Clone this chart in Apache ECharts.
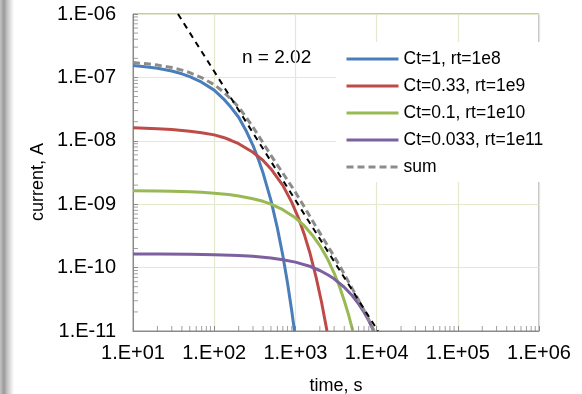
<!DOCTYPE html>
<html>
<head>
<meta charset="utf-8">
<script src="https://cdn.jsdelivr.net/npm/echarts@6/dist/echarts.min.js"></script>
<style>
  html, body { margin: 0; padding: 0; background: #fff; }
  #chart { width: 582px; height: 394px; }
</style>
</head>
<body>
<div id="chart"></div>
<script>
// Discharge currents of four trap populations (time in s, current in A)
const timeBlue    = [10, 15, 20, 30, 40, 50, 70, 100, 130, 160, 200, 250, 300, 350, 400, 500, 600, 700, 800, 900, 974];
const currentBlue = [1.54e-7, 1.46e-7, 1.39e-7, 1.26e-7, 1.14e-7, 1.03e-7, 8.4e-8, 6.3e-8, 4.6e-8, 3.4e-8, 2.35e-8, 1.40e-8, 8.5e-9, 5.1e-9, 3.1e-9, 1.15e-9, 4.2e-10, 1.55e-10, 5.7e-11, 2.1e-11, 1.0e-11];

const timeRed    = [10, 20, 30, 50, 70, 100, 130, 160, 200, 300, 400, 500, 700, 900, 1100, 1300, 1500, 1800, 2100, 2450];
const currentRed = [1.60e-8, 1.55e-8, 1.51e-8, 1.42e-8, 1.34e-8, 1.24e-8, 1.13e-8, 1.02e-8, 9.0e-9, 6.6e-9, 4.9e-9, 3.6e-9, 1.98e-9, 1.08e-9, 5.9e-10, 3.2e-10, 1.75e-10, 7.0e-11, 2.84e-11, 1.0e-11];

const timeGreen    = [10, 20, 30, 50, 70, 100, 150, 200, 300, 400, 500, 700, 1000, 1300, 1600, 2000, 2500, 3000, 3500, 4000, 4500, 5000, 5100];
const currentGreen = [1.63e-9, 1.62e-9, 1.60e-9, 1.57e-9, 1.54e-9, 1.49e-9, 1.42e-9, 1.35e-9, 1.22e-9, 1.11e-9, 1.0e-9, 8.2e-10, 6.1e-10, 4.5e-10, 3.3e-10, 2.23e-10, 1.35e-10, 8.2e-11, 5.0e-11, 3.0e-11, 1.83e-11, 1.1e-11, 1.0e-11];

const timePurple    = [10, 20, 50, 100, 200, 300, 500, 700, 1000, 1500, 2000, 2500, 3000, 4000, 5000, 6000, 7000, 8000, 9200];
const currentPurple = [1.645e-10, 1.64e-10, 1.625e-10, 1.60e-10, 1.55e-10, 1.51e-10, 1.42e-10, 1.33e-10, 1.22e-10, 1.05e-10, 9.0e-11, 7.7e-11, 6.65e-11, 4.9e-11, 3.63e-11, 2.68e-11, 1.98e-11, 1.46e-11, 1.0e-11];

const timeSum    = [10, 15, 20, 30, 40, 50, 70, 100, 130, 160, 200, 250, 300, 350, 400, 500, 600, 700, 800, 900, 1000, 1200, 1500, 1800, 2100, 2500, 3000, 3500, 4000, 5000, 6000, 7000, 8000, 9300];
const currentSum = [1.718e-7, 1.636e-7, 1.563e-7, 1.429e-7, 1.303e-7, 1.189e-7, 9.91e-8, 7.70e-8, 5.89e-8, 4.58e-8, 3.40e-8, 2.31e-8, 1.647e-8, 1.211e-8, 9.26e-9, 5.89e-9, 4.14e-9, 3.09e-9, 2.39e-9, 1.90e-9, 1.54e-9, 1.05e-9, 6.5e-10, 4.39e-10, 3.17e-10, 2.21e-10, 1.50e-10, 1.07e-10, 7.9e-11, 4.7e-11, 3.09e-11, 2.13e-11, 1.52e-11, 1.0e-11];

// Power-law guide, slope n = 2.02
const timeFit    = [35.8, 1.04e4];
const currentFit = [1e-6, 1e-11];

const seriesNames = ['Ct=1, rt=1e8', 'Ct=0.33, rt=1e9', 'Ct=0.1, rt=1e10', 'Ct=0.033, rt=1e11', 'sum'];
const seriesColors = ['#4a7ebb', '#be4b48', '#98b954', '#7d60a0', '#8c8c8c'];
const fitLabel = 'n = 2.02';
const xTitle = 'time, s';
const yTitle = 'current, A';

const X_MIN = 10, X_MAX = 1e6;
const Y_MIN = 1e-11, Y_MAX = 1e-6;
const minorMantissas = [2, 3, 4, 5, 6, 7, 8, 9];
const xDecades = [1e1, 1e2, 1e3, 1e4, 1e5];
const yDecades = [1e-11, 1e-10, 1e-9, 1e-8, 1e-7];

const FONT = '"Liberation Sans", Arial, sans-serif';
const AXIS_GRAY = '#8a8a8a';
const GRID_GREEN = '#e2eacb';

function pairs(xs, ys) { return xs.map((x, i) => [x, ys[i]]); }
function expLabel(v) {
  const e = Math.round(Math.log10(v));
  return '1.E' + (e < 0 ? '-' : '+') + String(Math.abs(e)).padStart(2, '0');
}

// Minor tick positions (2..9 within each decade), drawn as short inward marks
const xMinor = [];
xDecades.forEach(d => minorMantissas.forEach(m => xMinor.push([d * m, Y_MIN])));
const yMinor = [];
yDecades.forEach(d => minorMantissas.forEach(m => yMinor.push([X_MIN, d * m])));

function curve(name, xs, ys, color) {
  return {
    name: name, type: 'line', data: pairs(xs, ys),
    showSymbol: false, symbol: 'none', smooth: false,
    lineStyle: { color: color, width: 3, join: 'round' }, itemStyle: { color: color },
    emphasis: { disabled: true }
  };
}

const chart = echarts.init(document.getElementById('chart'), null, { renderer: 'canvas' });

chart.setOption({
  animation: false,
  backgroundColor: '#ffffff',
  textStyle: { fontFamily: FONT },
  grid: {
    left: 133, right: 43, top: 14, bottom: 63,
    outerBoundsMode: 'none', containLabel: false,
    show: true, borderColor: AXIS_GRAY, borderWidth: 1, backgroundColor: 'transparent'
  },
  xAxis: {
    type: 'log', logBase: 10, min: X_MIN, max: X_MAX, splitNumber: 5,
    name: xTitle, nameLocation: 'middle', nameGap: 46,
    nameTextStyle: { fontSize: 18, color: '#000', fontFamily: FONT },
    axisLine: { show: true, lineStyle: { color: AXIS_GRAY, width: 1 } },
    axisTick: { show: true, inside: true, length: 5, lineStyle: { color: AXIS_GRAY } },
    minorTick: { show: false },
    axisLabel: { formatter: expLabel, fontSize: 20, color: '#000', margin: 12, fontFamily: FONT },
    splitLine: { show: true, lineStyle: { color: GRID_GREEN, width: 1.2 } }
  },
  yAxis: {
    type: 'log', logBase: 10, min: Y_MIN, max: Y_MAX, splitNumber: 5,
    axisLine: { show: true, lineStyle: { color: AXIS_GRAY, width: 1 } },
    axisTick: { show: true, inside: true, length: 5, lineStyle: { color: AXIS_GRAY } },
    minorTick: { show: false },
    axisLabel: { formatter: expLabel, fontSize: 20, color: '#000', margin: 17, fontFamily: FONT },
    splitLine: { show: true, lineStyle: { color: GRID_GREEN, width: 1.2 } }
  },
  legend: {
    data: seriesNames, orient: 'vertical', left: 336, top: 42,
    padding: [8, 6, 6, 9], backgroundColor: '#ffffff',
    itemWidth: 52, itemHeight: 14, itemGap: 9,
    itemStyle: { opacity: 0 },
    lineStyle: { width: 3 },
    textStyle: { fontSize: 17.5, color: '#000', fontFamily: FONT },
    selectedMode: false
  },
  graphic: [
    {
      type: 'rect', left: 0, top: 0, silent: true,
      shape: { width: 14, height: 394 },
      style: {
        fill: new echarts.graphic.LinearGradient(0, 0, 1, 0, [
          { offset: 0, color: '#c4c4c4' },
          { offset: 0.28, color: '#999999' },
          { offset: 0.55, color: '#c8c8c8' },
          { offset: 1, color: '#ffffff' }
        ])
      }
    },
    {
      type: 'text', left: 242, top: 48, silent: true,
      style: { text: fitLabel, fill: '#000', font: '19px ' + FONT }
    },
    {
      type: 'text', x: 38, y: 182, rotation: Math.PI / 2, silent: true,
      style: { text: yTitle, fill: '#000', font: '18px ' + FONT, align: 'center', verticalAlign: 'middle' }
    }
  ],
  series: [
    curve(seriesNames[0], timeBlue, currentBlue, seriesColors[0]),
    curve(seriesNames[1], timeRed, currentRed, seriesColors[1]),
    curve(seriesNames[2], timeGreen, currentGreen, seriesColors[2]),
    curve(seriesNames[3], timePurple, currentPurple, seriesColors[3]),
    {
      name: seriesNames[4], type: 'line', data: pairs(timeSum, currentSum),
      showSymbol: false, symbol: 'none', smooth: false,
      lineStyle: { color: seriesColors[4], width: 3, type: [7, 4] },
      itemStyle: { color: seriesColors[4] }, emphasis: { disabled: true }
    },
    {
      name: fitLabel, type: 'line', data: pairs(timeFit, currentFit),
      showSymbol: false, symbol: 'none',
      lineStyle: { color: '#000', width: 2, type: [6, 5] },
      emphasis: { disabled: true }
    },
    {
      type: 'scatter', name: 'x minor ticks', data: xMinor, silent: true, clip: false,
      symbol: 'rect', symbolSize: [1, 5], symbolOffset: [0, -2.5],
      itemStyle: { color: AXIS_GRAY }, z: 3
    },
    {
      type: 'scatter', name: 'y minor ticks', data: yMinor, silent: true, clip: false,
      symbol: 'rect', symbolSize: [5, 1], symbolOffset: [2.5, 0],
      itemStyle: { color: AXIS_GRAY }, z: 3
    }
  ]
});
</script>
</body>
</html>
